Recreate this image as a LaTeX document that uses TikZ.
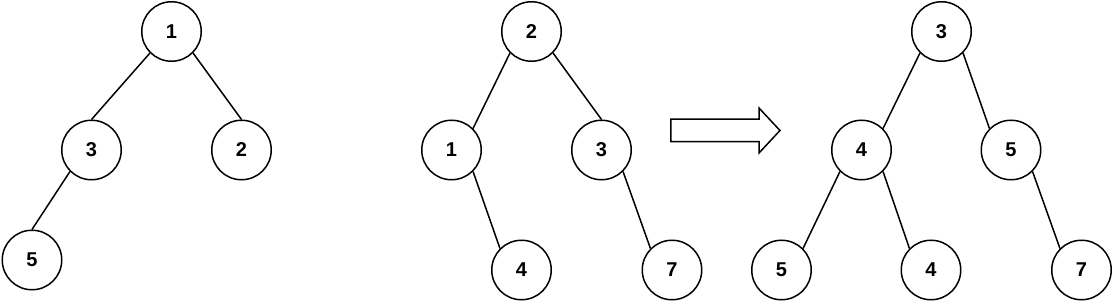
\documentclass[tikz,border=0pt]{standalone}
\usepackage{fontspec}
\setmainfont{Liberation Sans}
\usetikzlibrary{shapes,arrows,positioning}

\begin{document}
\begin{tikzpicture}[
    x=1pt, y=1pt, on grid,
    font=\bfseries\fontsize{20}{24}\selectfont,
    vert/.style={draw=black, circle, line width=1.5pt, minimum size=59.5pt, inner sep=0pt},
    edge/.style={line width=1.5pt}
]
\useasboundingbox (0,0) rectangle (1112,-302);

% left tree
\node[vert] (a_one) at (171.5,-31.5) {1};
\node[vert, below left=118.5pt and 80pt of a_one] (a_three) {3};
\node[vert, below right=118.5pt and 70pt of a_one] (a_two) {2};
\node[vert, below left=110pt and 59.5pt of a_three] (a_five) {5};

\draw[edge] (a_one.225) -- (a_three.north);
\draw[edge] (a_one.-45) -- (a_two.north);
\draw[edge] (a_three.225) -- (a_five.north);

% middle tree
\node[vert] (b_two) at (531.5,-31.5) {2};
\node[vert, below left=118.5pt and 80pt of b_two] (b_one) {1};
\node[vert, below right=118.5pt and 70pt of b_two] (b_three) {3};
\node[vert, below right=120pt and 70pt of b_one] (b_four) {4};
\node[vert, below right=120pt and 70.5pt of b_three] (b_seven) {7};

\draw[edge] (b_two.225) -- (b_one.45);
\draw[edge] (b_two.-45) -- (b_three.north);
\draw[edge] (b_one.-45) -- (b_four.135);
\draw[edge] (b_three.-45) -- (b_seven.135);

% arrow
\node[draw=black, line width=1.5pt, single arrow, single arrow head extend=11pt,
      single arrow tip angle=94, minimum height=109pt, inner xsep=0pt, inner ysep=10.5pt,
      anchor=tip] (merge_arrow) at (781,-130.5) {};

% right tree
\node[vert] (c_three) at (941.5,-31.5) {3};
\node[vert, below left=118.5pt and 80pt of c_three] (c_four) {4};
\node[vert, below right=118.5pt and 69.5pt of c_three] (c_five) {5};
\node[vert, below left=120pt and 80pt of c_four] (c_five_l) {5};
\node[vert, below right=120pt and 69.5pt of c_four] (c_four_r) {4};
\node[vert, below right=120pt and 70.5pt of c_five] (c_seven) {7};

\draw[edge] (c_three.225) -- (c_four.45);
\draw[edge] (c_three.-45) -- (c_five.135);
\draw[edge] (c_four.225) -- (c_five_l.45);
\draw[edge] (c_four.-45) -- (c_four_r.135);
\draw[edge] (c_five.-45) -- (c_seven.135);

\end{tikzpicture}
\end{document}
